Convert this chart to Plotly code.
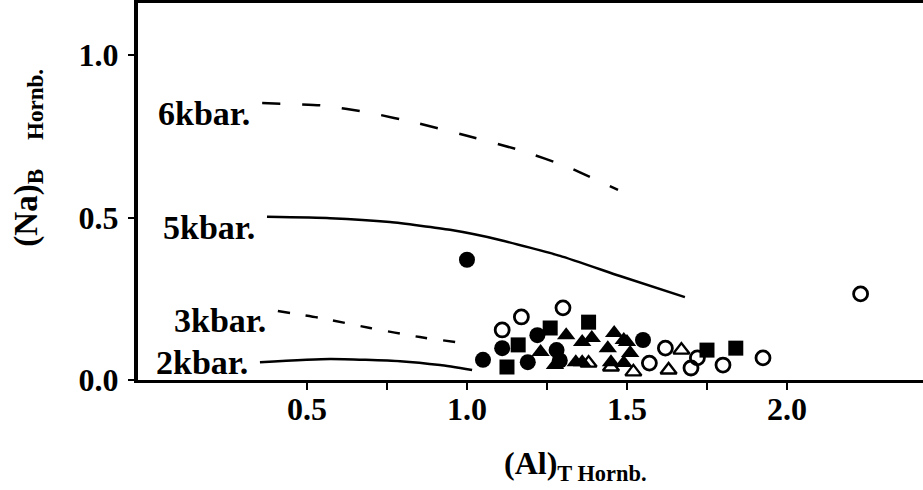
import plotly.graph_objects as go

# ---------------- data ----------------
filled_circle_x = [1.00, 1.05, 1.11, 1.22, 1.19, 1.28, 1.29, 1.55]
filled_circle_y = [0.37, 0.062, 0.098, 0.138, 0.055, 0.092, 0.06, 0.123]

open_circle_x = [1.11, 1.17, 1.30, 1.57, 1.62, 1.70, 1.72, 1.80, 1.925, 2.23]
open_circle_y = [0.154, 0.194, 0.222, 0.052, 0.098, 0.037, 0.068, 0.046, 0.068, 0.265]

filled_square_x = [1.125, 1.16, 1.26, 1.38, 1.75, 1.84]
filled_square_y = [0.04, 0.108, 0.16, 0.178, 0.092, 0.098]

filled_tri_x = [1.31, 1.23, 1.275, 1.36, 1.39, 1.46, 1.49, 1.50, 1.34, 1.36, 1.44, 1.45, 1.51, 1.49]
filled_tri_y = [0.138, 0.086, 0.046, 0.117, 0.129, 0.145, 0.123, 0.117, 0.055, 0.055, 0.098, 0.055, 0.083, 0.052]

open_tri_x = [1.38, 1.45, 1.52, 1.67, 1.63]
open_tri_y = [0.052, 0.04, 0.025, 0.092, 0.031]

kbar6_x = [0.36, 0.544, 0.697, 0.847, 1.003, 1.166, 1.316, 1.472]
kbar6_y = [0.852, 0.845, 0.822, 0.79, 0.751, 0.707, 0.655, 0.585]

kbar5_x = [0.375, 0.572, 0.759, 0.947, 1.103, 1.291, 1.478, 1.681]
kbar5_y = [0.502, 0.498, 0.486, 0.462, 0.431, 0.382, 0.32, 0.255]

kbar3_x = [0.409, 0.541, 0.697, 0.853, 0.963]
kbar3_y = [0.212, 0.191, 0.16, 0.132, 0.117]

kbar2_x = [0.353, 0.572, 0.791, 0.916, 1.016]
kbar2_y = [0.055, 0.065, 0.058, 0.046, 0.031]

x_tickvals = [0.5, 1.0, 1.5, 2.0]
x_ticktext = ["0.5", "1.0", "1.5", "2.0"]
x_minor_tickvals = [0.75, 1.25, 1.75]
y_tickvals = [0.0, 0.5, 1.0]
y_ticktext = ["0.0", "0.5", "1.0"]

# ---------------- figure ----------------
FONT = "Liberation Serif, Times New Roman, serif"
fig = go.Figure()

curves = [
    ("6kbar.", kbar6_x, kbar6_y, "18px,22px", 10),
    ("5kbar.", kbar5_x, kbar5_y, "solid", 11),
    ("3kbar.", kbar3_x, kbar3_y, "12px,16px", 9),
    ("2kbar.", kbar2_x, kbar2_y, "solid", 0),
]
for name, xs, ys, dash, dy in curves:
    fig.add_trace(go.Scatter(x=xs, y=ys, mode="lines", line_shape="spline",
                             line=dict(color="black", width=2.5, dash=dash, smoothing=0.5),
                             hoverinfo="skip", showlegend=False))
    fig.add_annotation(x=xs[0], y=ys[0], text=name, showarrow=False,
                       xanchor="right", yanchor="middle", xshift=-10, yshift=-dy,
                       font=dict(family=FONT, size=34, color="black", weight="bold"))

def pts(xs, ys, symbol, size, lw=0):
    fig.add_trace(go.Scatter(x=xs, y=ys, mode="markers", showlegend=False,
                             marker=dict(symbol=symbol, size=size, color="black",
                                         line=dict(width=lw, color="black"))))

pts(filled_circle_x, filled_circle_y, "circle", 16)
pts(filled_square_x, filled_square_y, "square", 15)
pts(filled_tri_x, filled_tri_y, "triangle-up", 16)
pts(open_circle_x, open_circle_y, "circle-open", 14, 2.8)
pts(open_tri_x, open_tri_y, "triangle-up-open", 14, 2.4)

fig.update_layout(
    width=923, height=490,
    margin=dict(l=138, r=0, t=3, b=110),
    paper_bgcolor="white", plot_bgcolor="white",
    xaxis=dict(range=[-0.028, 2.425], tickvals=x_tickvals, ticktext=x_ticktext,
               ticks="outside", ticklen=7, tickwidth=2, tickcolor="black",
               minor=dict(tickvals=x_minor_tickvals, ticks="outside", ticklen=7,
                          tickwidth=2, tickcolor="black", showgrid=False),
               showline=True, linewidth=3, linecolor="black", mirror=True,
               showgrid=False, zeroline=False, ticklabelstandoff=-8,
               tickfont=dict(family=FONT, size=32, color="black", weight="bold")),
    yaxis=dict(range=[0, 1.16], tickvals=y_tickvals, ticktext=y_ticktext,
               ticks="outside", ticklen=6, tickwidth=2, tickcolor="black",
               showline=True, linewidth=4, linecolor="black", mirror=False,
               showgrid=False, zeroline=False, ticklabelstandoff=3,
               tickfont=dict(family=FONT, size=32, color="black", weight="bold")),
)

fig.add_annotation(xref="paper", yref="paper", x=0.557, y=-0.228,
                   text="(Al)<sub>T Hornb.</sub>", showarrow=False,
                   xanchor="center", yanchor="middle",
                   font=dict(family=FONT, size=32, color="black", weight="bold"))
fig.add_annotation(xref="paper", yref="paper", x=-0.14, y=0.59, textangle=-90,
                   text="(Na)<sub>B&nbsp;&nbsp;&nbsp;&nbsp;&nbsp;Hornb.</sub>", showarrow=False,
                   xanchor="center", yanchor="middle",
                   font=dict(family=FONT, size=33, color="black", weight="bold"))

fig.write_html("out.html")
